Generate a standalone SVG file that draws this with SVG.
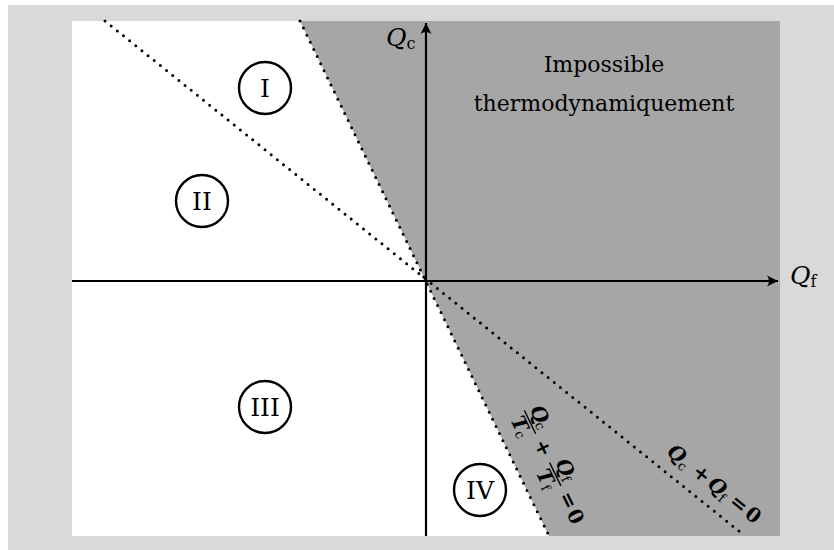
<svg xmlns="http://www.w3.org/2000/svg" width="834" height="550" viewBox="0 0 834 550">
<defs>
<style>
.t{font-family:"DejaVu Serif","Liberation Serif",serif;fill:#000}
.num{font-size:25px;text-anchor:middle}
.lab{font-size:22px;text-anchor:middle}
.circ{fill:none;stroke:#000;stroke-width:2.4}
.axis{stroke:#000;stroke-width:2.2;fill:none}
.dot{stroke:#000;stroke-width:3;stroke-linecap:round;stroke-dasharray:0 7.9;fill:none}
.eq{font-family:"DejaVu Serif","Liberation Serif",serif;font-weight:bold;text-anchor:middle}
.sub{font-family:"DejaVu Serif","Liberation Serif",serif;font-weight:normal;text-anchor:middle}
</style>
<marker id="arr" viewBox="-12 -6 13 12" markerWidth="13" markerHeight="12" refX="0" refY="0" orient="auto" markerUnits="userSpaceOnUse">
<path d="M0,0 L-11,-5.5 Q-7,0 -11,5.5 Z" fill="#000"/>
</marker>
</defs>
<rect x="8" y="5" width="826" height="545" fill="#d9d9d9"/>
<rect x="72" y="21" width="708" height="515" fill="#ffffff"/>
<polygon points="300,21 780,21 780,536 549,536" fill="#a6a6a6"/>
<g id="connectors">
<line class="dot" x1="300" y1="21" x2="549" y2="536"/>
<line class="dot" x1="105" y1="21" x2="745" y2="536"/>
<line class="axis" x1="72" y1="281" x2="778" y2="281" marker-end="url(#arr)"/>
<line class="axis" x1="426" y1="536" x2="426" y2="23" marker-end="url(#arr)"/>
</g>
<g id="label-Qc"><text class="t" x="386" y="46" font-size="25" font-style="italic">Q<tspan font-style="normal" font-size="16" dy="3">c</tspan></text></g>
<g id="label-Qf"><text class="t" x="790" y="284" font-size="25" font-style="italic">Q<tspan font-style="normal" font-size="16" dy="3">f</tspan></text></g>
<g id="impossible">
<text class="t lab" x="604" y="72">Impossible</text>
<text class="t lab" x="604" y="111">thermodynamiquement</text>
</g>
<g id="region-I"><circle class="circ" cx="265" cy="88" r="26"/><text class="t num" x="265" y="97">I</text></g>
<g id="region-II"><circle class="circ" cx="202" cy="201" r="26"/><text class="t num" x="202" y="210">II</text></g>
<g id="region-III"><circle class="circ" cx="265" cy="407" r="26"/><text class="t num" x="265" y="416">III</text></g>
<g id="region-IV"><circle class="circ" cx="480" cy="490" r="26"/><text class="t num" x="480" y="499">IV</text></g>
<g id="eq-clausius" transform="translate(530,422) rotate(64.2)">
<text class="eq" x="-3" y="-5" font-size="20" font-style="italic">Q</text>
<text class="sub" x="8" y="-3" font-size="13">c</text>
<line x1="-13" y1="0" x2="13" y2="0" stroke="#000" stroke-width="1.4"/>
<text class="eq" x="-3" y="17" font-size="20" font-style="italic">T</text>
<text class="sub" x="7" y="19" font-size="13">c</text>
<text class="eq" x="29" y="6" font-size="20">+</text>
<text class="eq" x="56" y="-5" font-size="20" font-style="italic">Q</text>
<text class="sub" x="67" y="-3" font-size="13">f</text>
<line x1="45" y1="0" x2="71" y2="0" stroke="#000" stroke-width="1.4"/>
<text class="eq" x="56" y="17" font-size="20" font-style="italic">T</text>
<text class="sub" x="66" y="19" font-size="13">f</text>
<text class="eq" x="87" y="6" font-size="20">=</text>
<text class="eq" x="105" y="7" font-size="20">0</text>
</g>
<g id="eq-energy" transform="translate(680,456) rotate(38.8)">
<text class="eq" x="-4" y="7" font-size="20" font-style="italic">Q</text>
<text class="sub" x="8" y="11" font-size="13">c</text>
<text class="eq" x="28" y="7" font-size="20">+</text>
<text class="eq" x="48" y="7" font-size="20" font-style="italic">Q</text>
<text class="sub" x="59" y="11" font-size="13">f</text>
<text class="eq" x="76" y="7" font-size="20">=</text>
<text class="eq" x="94" y="7" font-size="20">0</text>
</g>
</svg>
